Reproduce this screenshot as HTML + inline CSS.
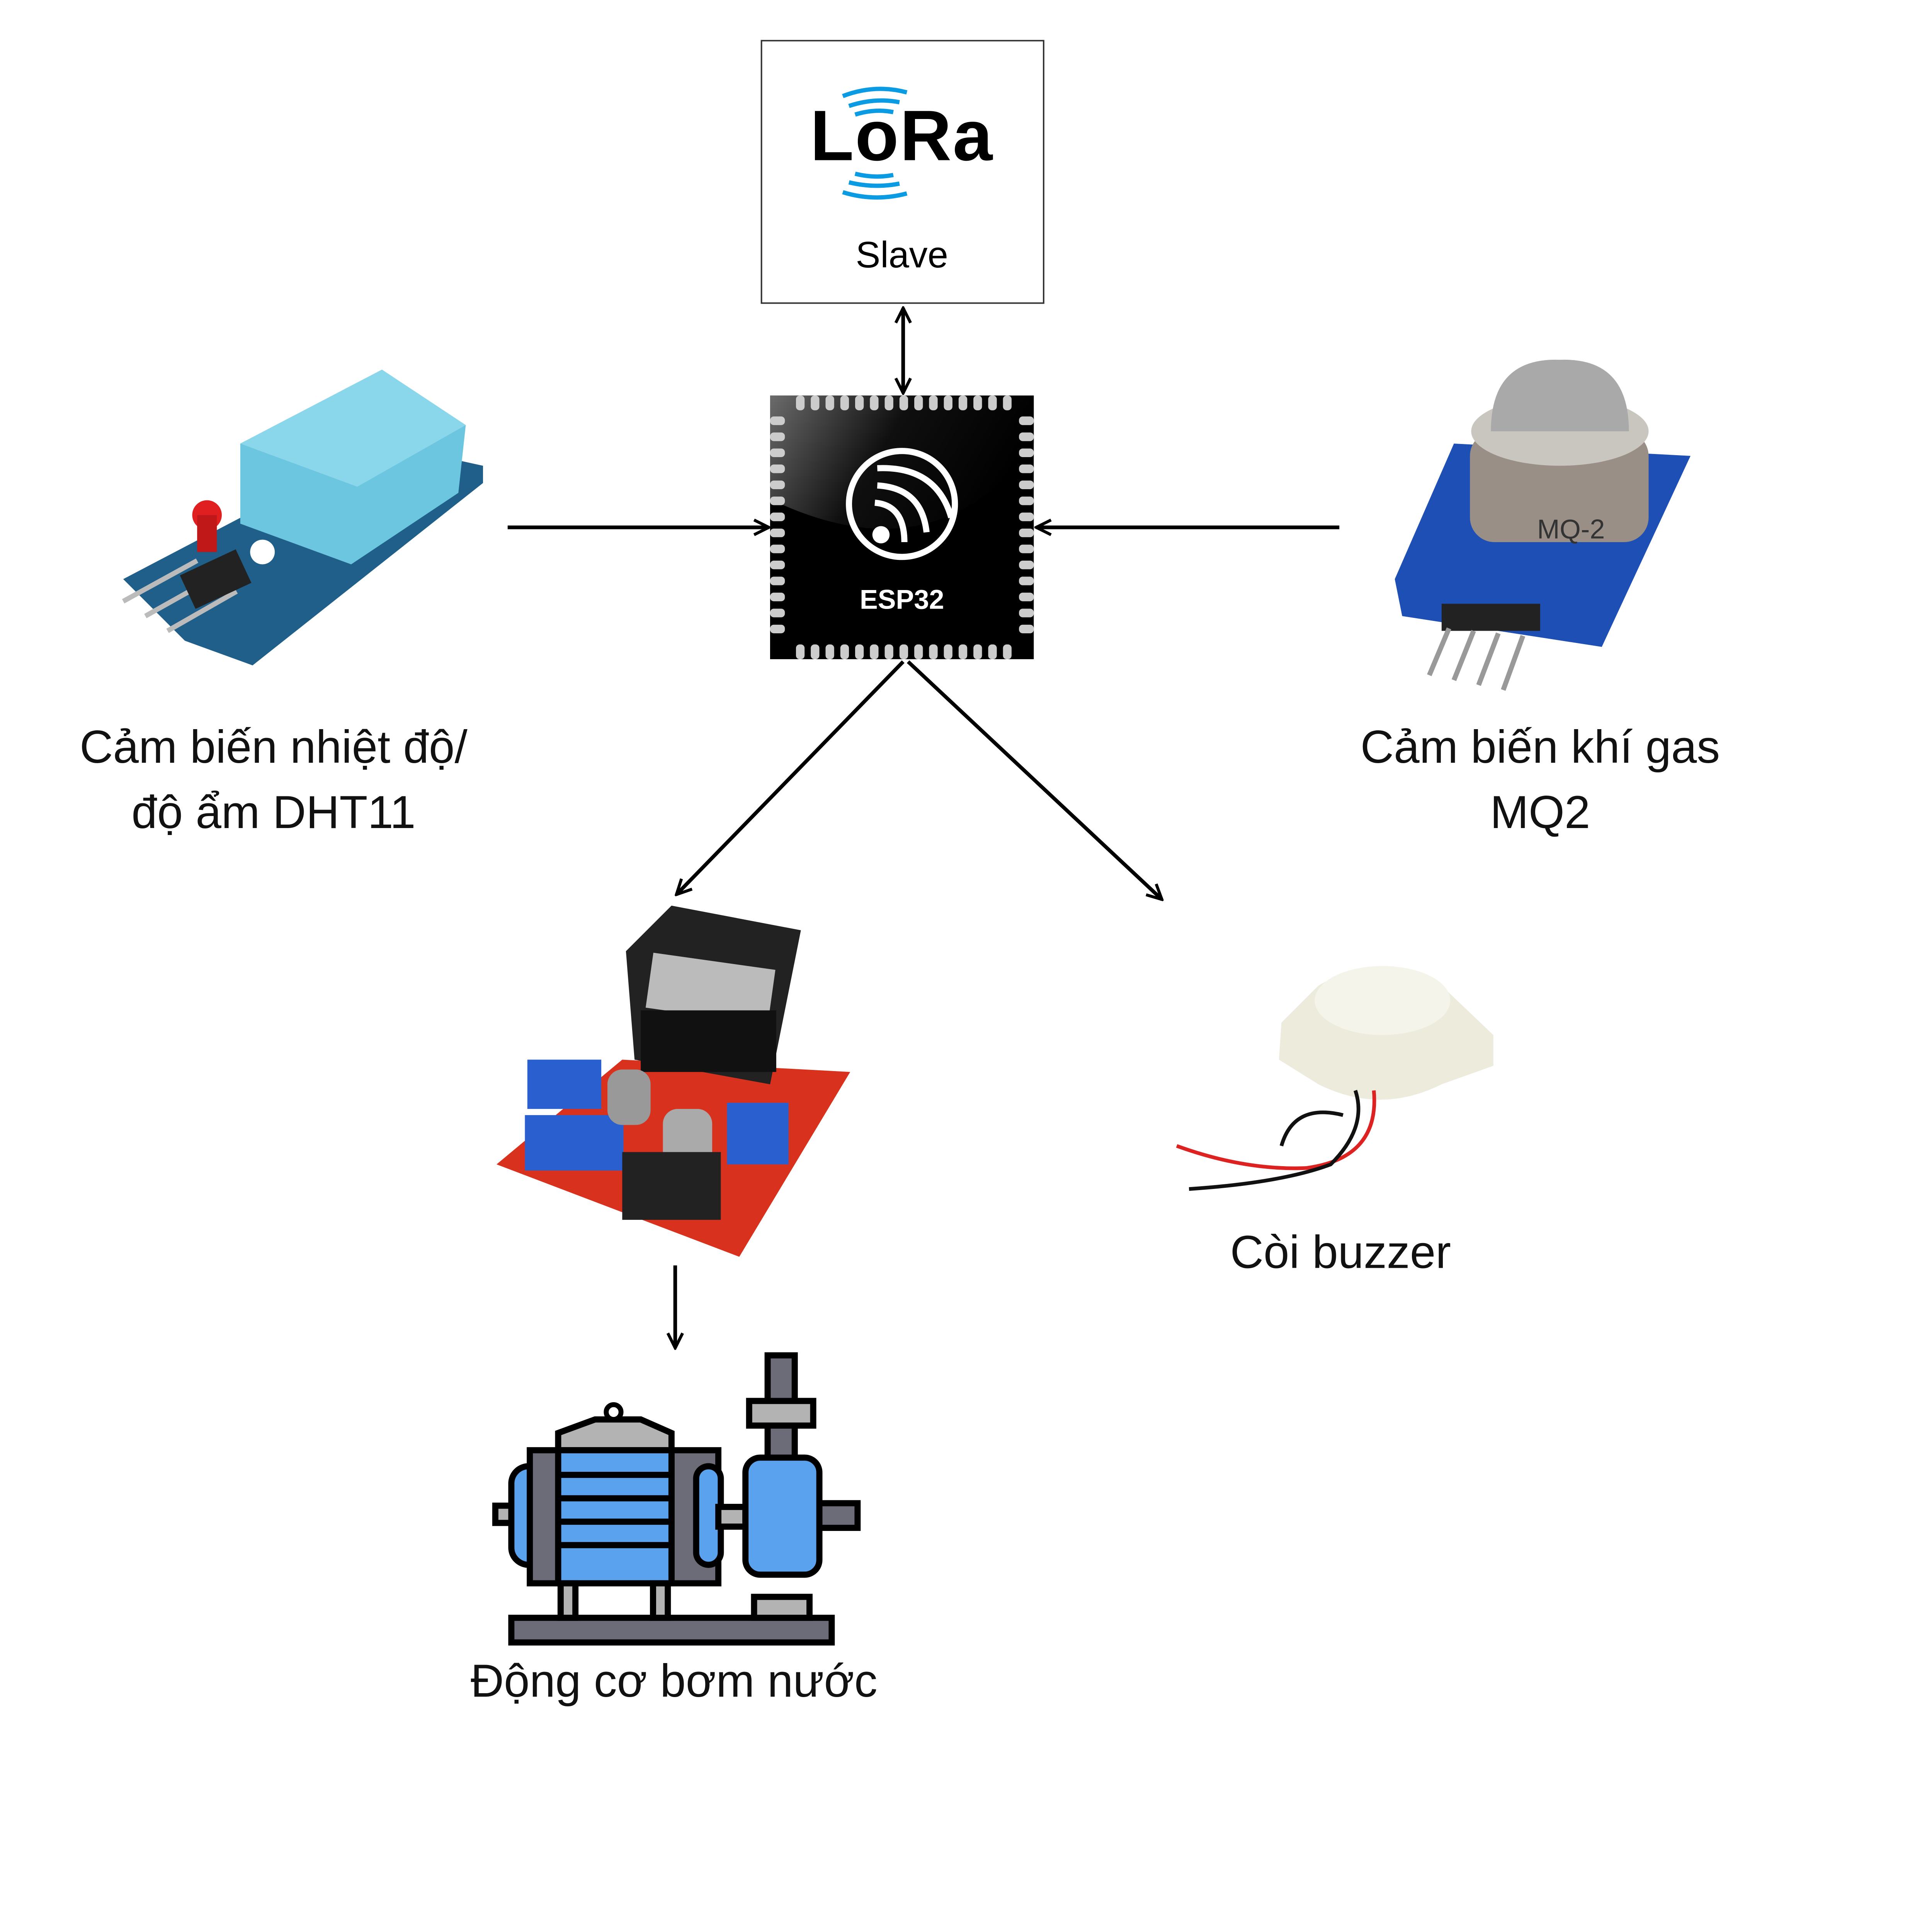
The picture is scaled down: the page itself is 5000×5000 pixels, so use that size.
<!DOCTYPE html>
<html><head><meta charset="utf-8"><style>html,body{margin:0;padding:0;background:#fff}svg{display:block}</style></head>
<body>
<svg width="5000" height="5000" viewBox="0 0 1568 1568" xmlns="http://www.w3.org/2000/svg" font-family="Liberation Sans, DejaVu Sans, sans-serif">
<defs>
<linearGradient id="chip" x1="0" y1="0" x2="1" y2="0.3"><stop offset="0" stop-color="#777"/><stop offset="0.5" stop-color="#111"/><stop offset="1" stop-color="#000"/></linearGradient>
<marker id="ah" viewBox="0 0 10 10" refX="9" refY="5" markerWidth="5" markerHeight="5" orient="auto-start-reverse"><path d="M1,1 L9,5 L1,9" fill="none" stroke="#000" stroke-width="1.6"/></marker>
</defs>
<rect x="618" y="33" width="229" height="213" fill="#fff" stroke="#333" stroke-width="1.2"/>
<text x="732" y="130" text-anchor="middle" font-size="58" font-weight="bold" fill="#000" letter-spacing="1">LoRa</text>
<g fill="none" stroke="#0a9be3" stroke-width="3.5">
<path d="M684,78 Q710,68 736,75"/><path d="M689,86 Q710,79 730,83"/><path d="M694,93 Q710,88 725,91"/>
<path d="M684,156 Q710,164 736,157"/><path d="M689,148 Q710,153 730,149"/><path d="M694,141 Q710,145 725,142"/>
</g>
<text x="732" y="217" text-anchor="middle" font-size="30" fill="#000">Slave</text>
<g stroke="#000" stroke-width="3" fill="none">
<line x1="733" y1="250" x2="733" y2="319" marker-start="url(#ah)" marker-end="url(#ah)"/>
<line x1="412" y1="428" x2="624" y2="428" marker-end="url(#ah)"/>
<line x1="1087" y1="428" x2="841" y2="428" marker-end="url(#ah)"/>
<line x1="733" y1="537" x2="549" y2="726" marker-end="url(#ah)"/>
<line x1="737" y1="537" x2="943" y2="730" marker-end="url(#ah)"/>
<line x1="548" y1="1027" x2="548" y2="1094" marker-end="url(#ah)"/>
</g>
<rect x="625" y="321" width="214" height="214" fill="#000"/>
<path d="M625,321 H839 V360 Q760,470 625,405 Z" fill="url(#chip)" opacity="0.9"/>
<g fill="#ccc">
<rect x="646" y="321" width="7" height="12" rx="3"/><rect x="658" y="321" width="7" height="12" rx="3"/><rect x="670" y="321" width="7" height="12" rx="3"/><rect x="682" y="321" width="7" height="12" rx="3"/><rect x="694" y="321" width="7" height="12" rx="3"/><rect x="706" y="321" width="7" height="12" rx="3"/><rect x="718" y="321" width="7" height="12" rx="3"/><rect x="730" y="321" width="7" height="12" rx="3"/><rect x="742" y="321" width="7" height="12" rx="3"/><rect x="754" y="321" width="7" height="12" rx="3"/><rect x="766" y="321" width="7" height="12" rx="3"/><rect x="778" y="321" width="7" height="12" rx="3"/><rect x="790" y="321" width="7" height="12" rx="3"/><rect x="802" y="321" width="7" height="12" rx="3"/><rect x="814" y="321" width="7" height="12" rx="3"/>
<rect x="646" y="523" width="7" height="12" rx="3"/><rect x="658" y="523" width="7" height="12" rx="3"/><rect x="670" y="523" width="7" height="12" rx="3"/><rect x="682" y="523" width="7" height="12" rx="3"/><rect x="694" y="523" width="7" height="12" rx="3"/><rect x="706" y="523" width="7" height="12" rx="3"/><rect x="718" y="523" width="7" height="12" rx="3"/><rect x="730" y="523" width="7" height="12" rx="3"/><rect x="742" y="523" width="7" height="12" rx="3"/><rect x="754" y="523" width="7" height="12" rx="3"/><rect x="766" y="523" width="7" height="12" rx="3"/><rect x="778" y="523" width="7" height="12" rx="3"/><rect x="790" y="523" width="7" height="12" rx="3"/><rect x="802" y="523" width="7" height="12" rx="3"/><rect x="814" y="523" width="7" height="12" rx="3"/>
<rect x="625" y="338" width="12" height="7" rx="3"/><rect x="625" y="351" width="12" height="7" rx="3"/><rect x="625" y="364" width="12" height="7" rx="3"/><rect x="625" y="377" width="12" height="7" rx="3"/><rect x="625" y="390" width="12" height="7" rx="3"/><rect x="625" y="403" width="12" height="7" rx="3"/><rect x="625" y="416" width="12" height="7" rx="3"/><rect x="625" y="429" width="12" height="7" rx="3"/><rect x="625" y="442" width="12" height="7" rx="3"/><rect x="625" y="455" width="12" height="7" rx="3"/><rect x="625" y="468" width="12" height="7" rx="3"/><rect x="625" y="481" width="12" height="7" rx="3"/><rect x="625" y="494" width="12" height="7" rx="3"/><rect x="625" y="507" width="12" height="7" rx="3"/>
<rect x="827" y="338" width="12" height="7" rx="3"/><rect x="827" y="351" width="12" height="7" rx="3"/><rect x="827" y="364" width="12" height="7" rx="3"/><rect x="827" y="377" width="12" height="7" rx="3"/><rect x="827" y="390" width="12" height="7" rx="3"/><rect x="827" y="403" width="12" height="7" rx="3"/><rect x="827" y="416" width="12" height="7" rx="3"/><rect x="827" y="429" width="12" height="7" rx="3"/><rect x="827" y="442" width="12" height="7" rx="3"/><rect x="827" y="455" width="12" height="7" rx="3"/><rect x="827" y="468" width="12" height="7" rx="3"/><rect x="827" y="481" width="12" height="7" rx="3"/><rect x="827" y="494" width="12" height="7" rx="3"/><rect x="827" y="507" width="12" height="7" rx="3"/>
</g>
<g fill="none" stroke="#fff" stroke-width="5">
<circle cx="732" cy="409" r="43"/>
<path d="M712,380 Q760,378 772,420"/><path d="M712,394 Q748,396 752,432"/><path d="M710,408 Q734,410 734,440"/>
</g>
<circle cx="715" cy="434" r="7" fill="#fff"/>
<text x="732" y="494" text-anchor="middle" font-size="22" font-weight="bold" fill="#fff">ESP32</text>
<polygon points="100,470 310,360 392,378 392,392 205,540 150,520" fill="#1f5f8a"/>
<polygon points="195,360 310,300 378,345 372,400 285,458 195,425" fill="#6cc6e0"/>
<polygon points="195,360 310,300 378,345 290,395" fill="#8ad6ea"/>
<circle cx="213" cy="448" r="10" fill="#fff"/>
<circle cx="168" cy="418" r="12" fill="#e02020"/><rect x="160" y="418" width="16" height="30" fill="#c01818"/>
<g stroke="#bbb" stroke-width="4"><line x1="100" y1="488" x2="160" y2="455"/><line x1="118" y1="500" x2="175" y2="468"/><line x1="136" y1="512" x2="192" y2="480"/></g>
<rect x="150" y="455" width="50" height="30" fill="#222" transform="rotate(-25 175 470)"/>
<polygon points="1132,470 1180,360 1372,370 1300,525 1138,500" fill="#1e4fb5"/>
<rect x="1193" y="350" width="145" height="90" rx="20" fill="#9a8f86"/>
<ellipse cx="1266" cy="350" rx="72" ry="28" fill="#c9c6c0"/>
<path d="M1210,350 Q1210,290 1266,292 Q1322,290 1322,350 Z" fill="#a9a9a9"/>
<text x="1275" y="437" font-size="22" fill="#333" text-anchor="middle">MQ-2</text>
<rect x="1170" y="490" width="80" height="22" fill="#222"/>
<g stroke="#999" stroke-width="4"><line x1="1176" y1="510" x2="1160" y2="548"/><line x1="1196" y1="512" x2="1180" y2="552"/><line x1="1216" y1="514" x2="1200" y2="556"/><line x1="1236" y1="516" x2="1220" y2="560"/></g>
<g font-size="37.5" fill="#111" text-anchor="middle">
<text x="222" y="619">Cảm biến nhiệt độ/</text>
<text x="222" y="672">độ ẩm DHT11</text>
<text x="1250" y="619">Cảm biến khí gas</text>
<text x="1250" y="672">MQ2</text>
<text x="1088" y="1029">Còi buzzer</text>
<text x="547" y="1377">Động cơ bơm nước</text>
</g>
<polygon points="403,945 505,860 690,870 600,1020" fill="#d8321e"/>
<polygon points="508,772 545,735 650,755 625,880 515,860" fill="#222"/>
<rect x="527" y="780" width="100" height="45" fill="#bbb" transform="rotate(8 577 800)"/>
<rect x="520" y="820" width="110" height="50" fill="#111"/>
<rect x="428" y="860" width="60" height="40" fill="#2a5fd0"/>
<rect x="426" y="905" width="80" height="45" fill="#2a5fd0"/>
<rect x="590" y="895" width="50" height="50" fill="#2a5fd0"/>
<rect x="493" y="868" width="35" height="45" rx="12" fill="#999"/>
<rect x="538" y="900" width="40" height="50" rx="12" fill="#aaa"/>
<rect x="505" y="935" width="80" height="55" fill="#222"/>
<path d="M1040,830 L1070,800 Q1120,770 1170,800 L1212,840 L1212,865 L1170,880 Q1120,905 1070,880 L1038,860 Z" fill="#ecebdc"/>
<ellipse cx="1122" cy="812" rx="55" ry="28" fill="#f5f4ea"/>
<g fill="none" stroke-width="3"><path d="M955,930 Q1010,950 1060,948 Q1120,940 1115,885" stroke="#d22"/><path d="M965,965 Q1040,960 1080,945 Q1110,915 1100,885" stroke="#111"/><path d="M1040,930 Q1050,895 1090,905" stroke="#111"/></g>
<g stroke="#000" stroke-width="5">
<rect x="415" y="1313" width="260" height="20" fill="#6b6c78"/>
<rect x="402" y="1222" width="30" height="14" fill="#b3b3b3"/>
<rect x="415" y="1190" width="30" height="80" rx="14" fill="#5aa1ee"/>
<rect x="430" y="1177" width="40" height="108" fill="#6b6c78"/>
<rect x="545" y="1177" width="38" height="108" fill="#6b6c78"/>
<rect x="565" y="1190" width="20" height="80" rx="10" fill="#5aa1ee"/>
<path d="M453,1177 V1163 L483,1152 H520 L545,1163 V1177 Z" fill="#b3b3b3"/>
<rect x="453" y="1177" width="92" height="108" fill="#5aa1ee"/>
<line x1="453" y1="1197" x2="545" y2="1197"/><line x1="453" y1="1216" x2="545" y2="1216"/><line x1="453" y1="1235" x2="545" y2="1235"/><line x1="453" y1="1254" x2="545" y2="1254"/>
<rect x="583" y="1223" width="22" height="16" fill="#b3b3b3"/>
<rect x="663" y="1220" width="33" height="20" fill="#6b6c78"/>
<rect x="623" y="1100" width="22" height="85" fill="#6b6c78"/>
<rect x="608" y="1137" width="52" height="20" fill="#b3b3b3"/>
<rect x="605" y="1183" width="60" height="95" rx="12" fill="#5aa1ee"/>
<rect x="612" y="1296" width="45" height="17" fill="#b3b3b3"/>
<rect x="455" y="1285" width="12" height="28" fill="#b3b3b3"/>
<rect x="530" y="1285" width="12" height="28" fill="#b3b3b3"/>
</g>
<circle cx="498" cy="1146" r="6" fill="#fff" stroke="#000" stroke-width="4"/>
</svg>
</body></html>
